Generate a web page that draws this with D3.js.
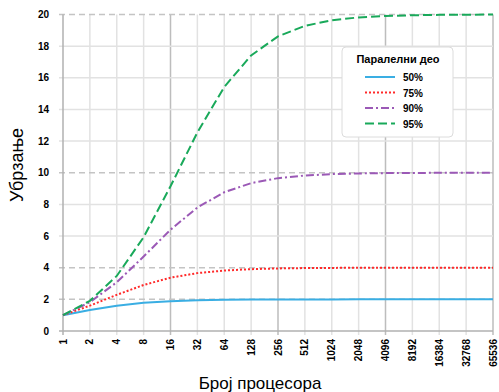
<!DOCTYPE html>
<html>
<head>
<meta charset="utf-8">
<script src="https://cdn.jsdelivr.net/npm/d3@7"></script>
<style>
  body { margin: 0; background: #fff; }
  svg text { font-family: "Liberation Sans", Arial, sans-serif; }
</style>
</head>
<body>
<div class="chart"></div>
<script>
// broj procesora (log2)
const processors = [1, 2, 4, 8, 16, 32, 64, 128, 256, 512, 1024, 2048, 4096, 8192, 16384, 32768, 65536];
const yTicks = [0, 2, 4, 6, 8, 10, 12, 14, 16, 18, 20];
const dashedY = [2, 4, 10, 20];
const majorX = [16, 256, 4096, 65536];

const s50 = [1, 1.333, 1.6, 1.778, 1.882, 1.939, 1.969, 1.984, 1.992, 1.996, 1.998, 1.999, 2.0, 2.0, 2.0, 2.0, 2.0];
const s75 = [1, 1.6, 2.286, 2.909, 3.368, 3.657, 3.821, 3.908, 3.954, 3.977, 3.988, 3.994, 3.997, 3.999, 3.999, 4.0, 4.0];
const s90 = [1, 1.818, 3.077, 4.706, 6.4, 7.805, 8.767, 9.343, 9.66, 9.827, 9.913, 9.956, 9.978, 9.989, 9.995, 9.997, 9.999];
const s95 = [1, 1.905, 3.478, 5.926, 9.143, 12.549, 15.422, 17.415, 18.618, 19.284, 19.637, 19.817, 19.908, 19.954, 19.977, 19.989, 19.994];

const series = [
  { name: "50%", values: s50, color: "#3aaee3", dash: null },
  { name: "75%", values: s75, color: "#ff2a2a", dash: "2,2" },
  { name: "90%", values: s90, color: "#9b59b6", dash: "8,3,2,3" },
  { name: "95%", values: s95, color: "#19a95a", dash: "9,4" }
];

const width = 499, height = 392;
const mLeft = 63, mRight = 493, mTop = 14.5, mBottom = 331;

const svg = d3.select(".chart").append("svg")
  .attr("width", width)
  .attr("height", height);

const x = d3.scaleLog().base(2).domain([1, 65536]).range([mLeft, mRight]);
const y = d3.scaleLinear().domain([0, 20]).range([mBottom, mTop]);

// mreza
svg.append("g").selectAll("line")
  .data(processors.slice(1))
  .join("line")
  .attr("x1", d => x(d)).attr("x2", d => x(d))
  .attr("y1", mTop).attr("y2", mBottom + 4)
  .attr("stroke", d => majorX.includes(d) ? "#bdbdbd" : "#e2e2e2")
  .attr("stroke-width", 1.5);

svg.append("g").selectAll("line")
  .data(yTicks.slice(1))
  .join("line")
  .attr("x1", mLeft - 4).attr("x2", mRight)
  .attr("y1", d => y(d)).attr("y2", d => y(d))
  .attr("stroke", d => dashedY.includes(d) ? "#c4c4c4" : "#e2e2e2")
  .attr("stroke-width", 1.5)
  .attr("stroke-dasharray", d => dashedY.includes(d) ? "6,4" : null);

// ose
svg.append("line")
  .attr("x1", mLeft - 4).attr("x2", mRight)
  .attr("y1", mBottom).attr("y2", mBottom)
  .attr("stroke", "#b0b0b0").attr("stroke-width", 1.5);
svg.append("line")
  .attr("x1", mLeft).attr("x2", mLeft)
  .attr("y1", mTop).attr("y2", mBottom + 4)
  .attr("stroke", "#b0b0b0").attr("stroke-width", 1.5);

svg.append("g").selectAll("text")
  .data(yTicks)
  .join("text")
  .attr("x", 49)
  .attr("y", d => y(d) + 3.5)
  .attr("text-anchor", "end")
  .attr("font-size", 10)
  .attr("font-weight", "bold")
  .text(d => d);

svg.append("g").selectAll("text")
  .data(processors)
  .join("text")
  .attr("transform", d => `translate(${x(d) + 3.5},${339}) rotate(-90)`)
  .attr("text-anchor", "end")
  .attr("font-size", 10)
  .attr("font-weight", "bold")
  .text(d => d);

// krive
const line = d3.line()
  .x((d, i) => x(processors[i]))
  .y(d => y(d));

svg.append("g").selectAll("path")
  .data(series)
  .join("path")
  .attr("d", d => line(d.values))
  .attr("fill", "none")
  .attr("stroke", d => d.color)
  .attr("stroke-width", 2)
  .attr("stroke-dasharray", d => d.dash);

// naslovi osa
svg.append("text")
  .attr("x", 260).attr("y", 389)
  .attr("text-anchor", "middle")
  .attr("font-family", "DejaVu Sans")
  .attr("font-size", 17)
  .text("Број процесора");

svg.append("text")
  .attr("transform", "translate(23,165) rotate(-90)")
  .attr("text-anchor", "middle")
  .attr("font-family", "DejaVu Sans")
  .attr("font-size", 18)
  .text("Убрзање");

// legenda
const lg = svg.append("g").attr("transform", "translate(342,47)");
lg.append("rect")
  .attr("width", 111).attr("height", 90)
  .attr("rx", 4)
  .attr("fill", "#fff")
  .attr("stroke", "#dcdcdc");
lg.append("text")
  .attr("x", 56).attr("y", 16)
  .attr("text-anchor", "middle")
  .attr("font-family", "DejaVu Sans")
  .attr("font-size", 11)
  .attr("font-weight", "bold")
  .text("Паралелни део");

const item = lg.selectAll(".item")
  .data(series)
  .join("g")
  .attr("transform", (d, i) => `translate(0,${30 + i * 15.5})`);
item.append("line")
  .attr("x1", 23).attr("x2", 53)
  .attr("stroke", d => d.color)
  .attr("stroke-width", 2)
  .attr("stroke-dasharray", d => d.dash);
item.append("text")
  .attr("x", 61).attr("y", 4)
  .attr("font-family", "DejaVu Sans")
  .attr("font-size", 10)
  .attr("font-weight", "bold")
  .text(d => d.name);
</script>
</body>
</html>
